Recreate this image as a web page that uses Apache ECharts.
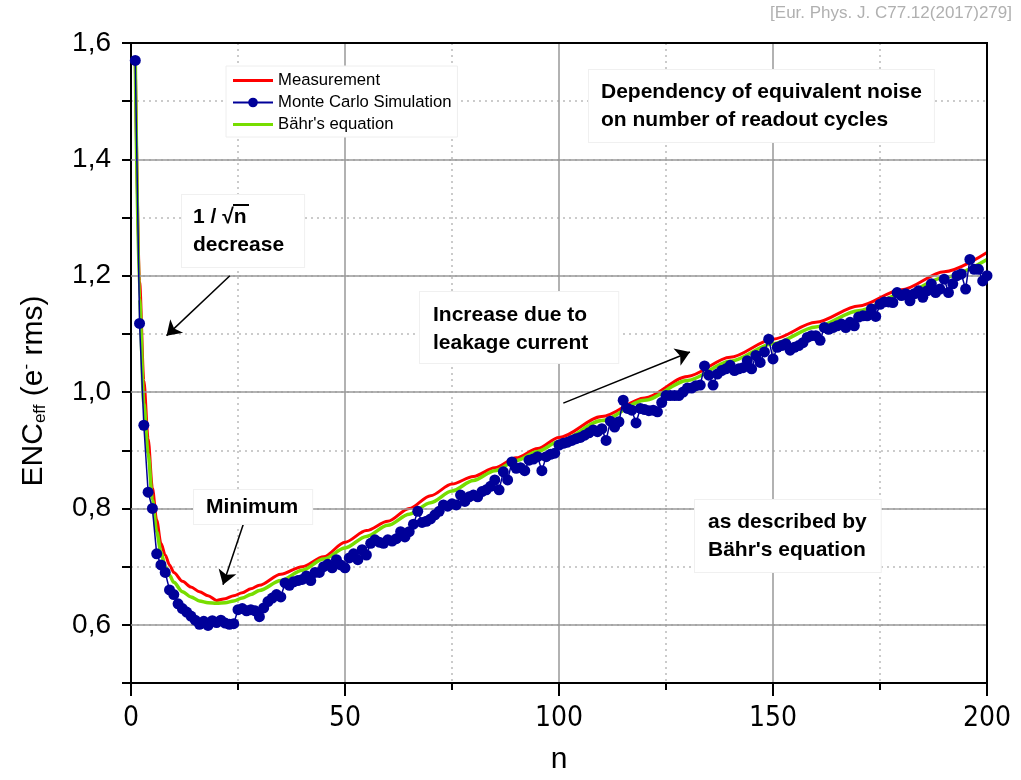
<!DOCTYPE html>
<html>
<head>
<meta charset="utf-8">
<script src="https://cdn.jsdelivr.net/npm/echarts@6/dist/echarts.min.js"></script>
<style>
  html, body { margin: 0; padding: 0; background: #fff; }
  #main { width: 1021px; height: 780px; }
</style>
</head>
<body>
<div id="main"></div>
<script>
// Monte Carlo simulation, one point per readout cycle n = 1..200
var mcValues = [
  1.57, 1.118, 0.943, 0.828, 0.80, 0.722, 0.703, 0.69, 0.66, 0.652,
  0.636, 0.628, 0.622, 0.615, 0.608, 0.601, 0.606, 0.599, 0.607, 0.604,
  0.608, 0.603, 0.601, 0.602, 0.626, 0.628, 0.624, 0.626, 0.624, 0.614,
  0.629, 0.64, 0.646, 0.652, 0.648, 0.672, 0.668, 0.674, 0.676, 0.678,
  0.684, 0.676, 0.69, 0.69, 0.70, 0.704, 0.698, 0.712, 0.703, 0.698,
  0.715, 0.722, 0.712, 0.729, 0.72, 0.74, 0.746, 0.742, 0.74, 0.746,
  0.744, 0.748, 0.76, 0.751, 0.76, 0.773, 0.795, 0.776, 0.778, 0.782,
  0.789, 0.795, 0.806, 0.804, 0.808, 0.806, 0.823, 0.812, 0.82, 0.823,
  0.82, 0.829, 0.832, 0.838, 0.849, 0.832, 0.863, 0.849, 0.88, 0.869,
  0.87, 0.865, 0.883, 0.885, 0.889, 0.865, 0.889, 0.893, 0.895, 0.909,
  0.912, 0.914, 0.917, 0.92, 0.922, 0.926, 0.93, 0.935, 0.932, 0.937,
  0.917, 0.95, 0.94, 0.949, 0.986, 0.972, 0.969, 0.947, 0.972, 0.97,
  0.968, 0.969, 0.966, 0.982, 0.994, 0.994, 0.994, 0.994, 1.0, 1.007,
  1.007, 1.011, 1.012, 1.045, 1.029, 1.012, 1.031, 1.037, 1.04, 1.046,
  1.037, 1.04, 1.042, 1.054, 1.04, 1.063, 1.051, 1.069, 1.091, 1.057,
  1.077, 1.08, 1.083, 1.072, 1.077, 1.08, 1.085, 1.094, 1.097, 1.097,
  1.089, 1.111, 1.108, 1.111, 1.114, 1.117, 1.111, 1.12, 1.114, 1.129,
  1.131, 1.131, 1.143, 1.13, 1.151, 1.155, 1.155, 1.154, 1.171, 1.166,
  1.169, 1.157, 1.169, 1.174, 1.163, 1.174, 1.186, 1.171, 1.177, 1.194,
  1.171, 1.186, 1.20, 1.203, 1.177, 1.228, 1.211, 1.211, 1.191, 1.20
];

// Measurement (red)
var measN = [1, 2, 3, 4, 5, 6, 7, 8, 9, 10, 12, 14, 16, 18, 20, 22, 24, 26, 28, 30,
  35, 40, 45, 50, 55, 60, 65, 70, 75, 80, 85, 90, 95, 100, 110, 120, 130, 140, 150,
  160, 170, 180, 190, 200];
var measV = [1.57, 1.19, 1.02, 0.92, 0.835, 0.78, 0.74, 0.72, 0.703, 0.69, 0.675, 0.665,
  0.657, 0.65, 0.642, 0.645, 0.65, 0.655, 0.662, 0.668,
  0.687, 0.70, 0.717, 0.742, 0.762, 0.778, 0.80, 0.822, 0.842, 0.855, 0.87, 0.887,
  0.903, 0.922, 0.958, 0.99, 1.027, 1.06, 1.091, 1.12, 1.148, 1.176, 1.207, 1.24];

// Baehr's equation (green)
var bahrN = [1, 2, 3, 4, 5, 6, 7, 8, 9, 10, 12, 14, 16, 18, 20, 22, 24, 26, 28, 30,
  35, 40, 45, 50, 55, 60, 65, 70, 75, 80, 85, 90, 95, 100, 110, 120, 130, 140, 150,
  160, 170, 180, 190, 200];
var bahrV = [1.57, 1.16, 0.98, 0.895, 0.815, 0.76, 0.725, 0.70, 0.685, 0.673, 0.657, 0.648,
  0.641, 0.638, 0.637, 0.638, 0.641, 0.646, 0.652, 0.659,
  0.676, 0.694, 0.713, 0.732, 0.752, 0.771, 0.79, 0.81, 0.83, 0.848, 0.865, 0.882,
  0.898, 0.915, 0.951, 0.986, 1.02, 1.053, 1.083, 1.112, 1.14, 1.168, 1.197, 1.228];

var majorY = [0.6, 0.8, 1.0, 1.2, 1.4];

// arrows: [start n, start value, end n, end value]
var arrows = [
  [23.1, 1.20, 8.3, 1.097],
  [26.2, 0.772, 21.5, 0.669],
  [101, 0.981, 130.6, 1.069]
];

function pairs(xs, ys) {
  return xs.map(function (x, i) { return [x, ys[i]]; });
}

var mcData = mcValues.map(function (v, i) { return [i + 1, v]; });

var myChart = echarts.init(document.getElementById('main'));

var boxText = function (txt, x, y, pad) {
  return {
    type: 'text',
    x: x,
    y: y,
    z: 100,
    style: {
      text: txt,
      font: 'bold 21px "Liberation Sans", Arial, sans-serif',
      fill: '#000',
      lineHeight: 28,
      backgroundColor: '#fff',
      borderColor: '#f0f0f0',
      borderWidth: 1,
      padding: pad
    }
  };
};

var lineIcon = 'path://M0,0 L40,0 L40,3 L0,3 Z';

var option = {
  animation: false,
  backgroundColor: '#fff',
  grid: {
    left: 131, right: 34, top: 43, bottom: 95,
    show: true, borderColor: '#000', borderWidth: 2
  },
  legend: {
    orient: 'vertical',
    left: 226, top: 66,
    data: [
      { name: 'Measurement', icon: lineIcon },
      { name: 'Monte Carlo Simulation' },
      { name: "Bähr's equation", icon: lineIcon }
    ],
    itemWidth: 40, itemHeight: 12, itemGap: 5,
    backgroundColor: '#fff',
    borderColor: '#eeeeee', borderWidth: 1,
    padding: [6, 6, 4, 6],
    textStyle: { fontSize: 16.7, color: '#000', fontFamily: '"Liberation Sans", Arial, sans-serif' }
  },
  xAxis: {
    type: 'value',
    min: 0, max: 200, interval: 50,
    name: 'n', nameLocation: 'middle', nameGap: 62,
    nameTextStyle: { fontSize: 30, color: '#000', fontFamily: '"Liberation Sans", Arial, sans-serif' },
    axisLine: { lineStyle: { color: '#000', width: 2 } },
    axisTick: { length: 13, lineStyle: { color: '#000', width: 2 } },
    minorTick: { show: true, splitNumber: 2, length: 7, lineStyle: { color: '#000', width: 2 } },
    axisLabel: {
      margin: 22, fontSize: 28, color: '#000',
      fontFamily: '"Liberation Sans Narrow", "DejaVu Sans Condensed", Arial, sans-serif'
    },
    splitLine: { lineStyle: { color: '#999', width: 1.5 } },
    minorSplitLine: { show: true, lineStyle: { color: '#bbb', width: 1.5, type: [2, 4] } }
  },
  yAxis: {
    type: 'value',
    min: 0.5, max: 1.6, interval: 0.1,
    name: '{a|ENC}{b|eff}{a| (e}{c|-}{a| rms)}',
    nameLocation: 'middle', nameGap: 82,
    nameTextStyle: {
      color: '#000',
      padding: [0, 56, 0, 0],
      rich: {
        a: { fontSize: 30, fontFamily: '"Liberation Sans", Arial, sans-serif', color: '#000' },
        b: { fontSize: 17, fontFamily: '"Liberation Sans", Arial, sans-serif', color: '#000', verticalAlign: 'bottom', padding: [14, 0, 0, 0] },
        c: { fontSize: 17, fontFamily: '"Liberation Sans", Arial, sans-serif', color: '#000', verticalAlign: 'top', padding: [0, 0, 14, 0] }
      }
    },
    axisLine: { lineStyle: { color: '#000', width: 2 } },
    axisTick: { length: 9, lineStyle: { color: '#000', width: 2 } },
    axisLabel: {
      margin: 20, fontSize: 28, color: '#000',
      fontFamily: '"Liberation Sans", Arial, sans-serif',
      formatter: function (v) {
        var k = Math.round(v * 10);
        if (k % 2 !== 0) return '';
        return (k / 10).toFixed(1).replace('.', ',');
      }
    },
    splitLine: { lineStyle: { color: '#bbb', width: 1.5, type: [2, 4] } }
  },
  series: [
    {
      name: 'gridMajor',
      type: 'line',
      data: [],
      z: 1,
      silent: true,
      markLine: {
        silent: true,
        symbol: 'none',
        label: { show: false },
        lineStyle: { color: '#999', width: 1.5, type: 'solid' },
        data: majorY.map(function (v) { return { yAxis: v }; }).concat([
          { yAxis: 1.6, lineStyle: { color: '#000', width: 2, type: 'solid' } },
          { xAxis: 200, lineStyle: { color: '#000', width: 2, type: 'solid' } }
        ])
      }
    },
    {
      name: 'Measurement',
      type: 'line',
      data: pairs(measN, measV),
      symbol: 'none',
      smooth: 0.3,
      smoothMonotone: 'x',
      lineStyle: { color: '#ff0000', width: 3 },
      itemStyle: { color: '#ff0000' },
      z: 3
    },
    {
      name: "Bähr's equation",
      type: 'line',
      data: pairs(bahrN, bahrV),
      symbol: 'none',
      smooth: 0.3,
      smoothMonotone: 'x',
      lineStyle: { color: '#77dd00', width: 3.5 },
      itemStyle: { color: '#77dd00' },
      z: 4
    },
    {
      name: 'Monte Carlo Simulation',
      type: 'line',
      data: mcData,
      symbol: 'circle',
      symbolSize: 11,
      showAllSymbol: true,
      lineStyle: { color: '#000099', width: 1.5 },
      itemStyle: { color: '#000099' },
      z: 5
    },
    {
      name: 'arrows',
      type: 'line',
      data: [],
      z: 6,
      silent: true,
      markLine: {
        silent: true,
        symbol: ['none', 'arrow'],
        symbolSize: 14,
        label: { show: false },
        lineStyle: { color: '#000', width: 1.5, type: 'solid' },
        data: arrows.map(function (a) {
          return [{ coord: [a[0], a[1]] }, { coord: [a[2], a[3]] }];
        })
      }
    }
  ],
  graphic: [
    {
      type: 'text', right: 9, top: 5,
      style: {
        text: '[Eur. Phys. J. C77.12(2017)279]',
        font: '17px "Liberation Sans", Arial, sans-serif',
        fill: '#b0b0b0'
      }
    },
    boxText('Dependency of equivalent noise\non number of readout cycles', 589, 70, [8, 12, 8, 12]),
    boxText('1 / √n\ndecrease', 182, 195, [8, 20, 8, 11]),
    {
      type: 'line', z: 101,
      shape: { x1: 233, y1: 205, x2: 249, y2: 205 },
      style: { stroke: '#000', lineWidth: 2 }
    },
    boxText('Increase due to\nleakage current', 420, 292, [9, 30, 6, 13]),
    boxText('as described by\nBähr\'s equation', 695, 500, [8, 14, 8, 13]),
    boxText('Minimum', 194, 490, [3, 14, 3, 12])
  ]
};

myChart.setOption(option);
</script>
</body>
</html>
